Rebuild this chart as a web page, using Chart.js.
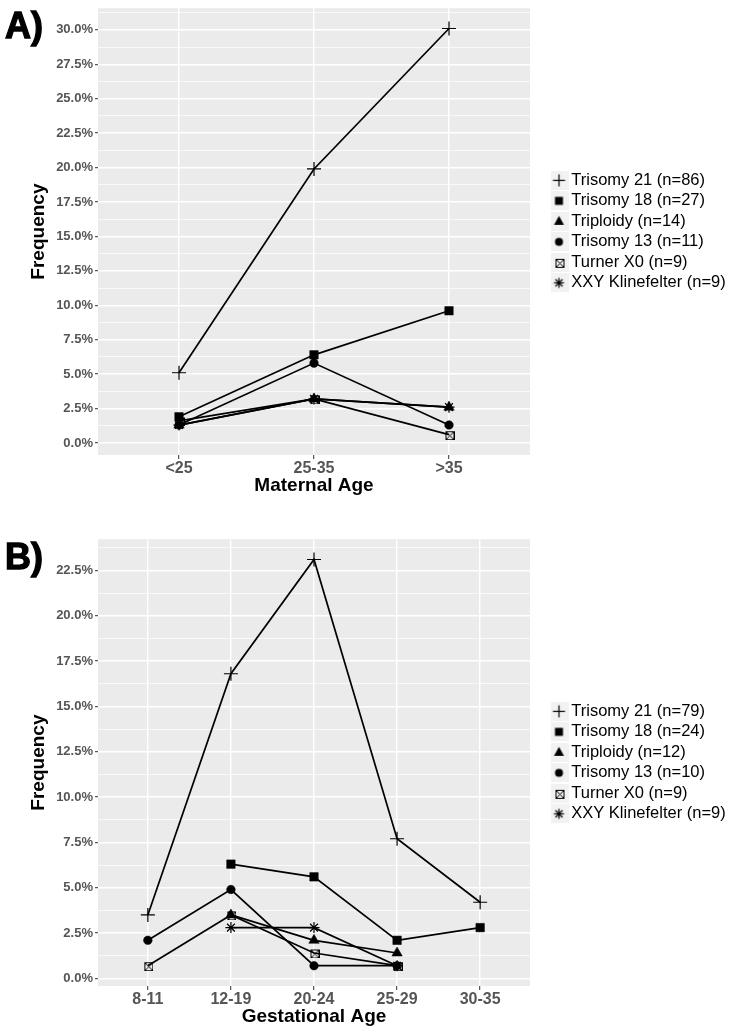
<!DOCTYPE html>
<html><head><meta charset="utf-8">
<script src="https://cdn.jsdelivr.net/npm/chart.js@4.4.0/dist/chart.umd.min.js"></script>
<style>
html,body{margin:0;padding:0;background:#fff;}
#wrap{position:relative;width:733px;height:1034px;overflow:hidden;background:#fff;}
.panel{position:absolute;left:0;width:733px;height:500px;}
.tag{position:absolute;left:5px;font:bold 36px 'Liberation Sans',Arial,sans-serif;line-height:36px;color:#000;-webkit-text-stroke:1.3px #000;}
</style></head><body>
<div id="wrap">
<div class="panel" style="top:0px"><canvas id="cA" width="733" height="500"></canvas></div>
<div class="panel" style="top:531px"><canvas id="cB" width="733" height="500"></canvas></div>
<div class="tag" style="top:8px">A)</div>
<div class="tag" style="top:539px">B)</div>
</div>
<script>
// ---------- data ----------
const seriesNames = ['Trisomy 21', 'Trisomy 18', 'Triploidy', 'Trisomy 13', 'Turner X0', 'XXY Klinefelter'];
const markerKinds = ['cross', 'square', 'triangle', 'circle', 'boxx', 'star'];

const maternalCategories = ['<25', '25-35', '>35'];
const maternalCounts = [86, 27, 14, 11, 9, 9];
const maternalT21 = [5.1, 19.9, 30.1];
const maternalT18 = [1.9, 6.4, 9.6];
const maternalTriploidy = [1.3, 3.2, 2.6];
const maternalT13 = [1.3, 5.8, 1.3];
const maternalTurner = [1.6, 3.2, 0.6];
const maternalXXY = [1.3, 3.2, 2.6];
const maternalYTicks = [0, 2.5, 5, 7.5, 10, 12.5, 15, 17.5, 20, 22.5, 25, 27.5, 30];

const gestCategories = ['8-11', '12-19', '20-24', '25-29', '30-35'];
const gestCounts = [79, 24, 12, 10, 9, 9];
const gestT21 = [3.5, 16.8, 23.1, 7.7, 4.2];
const gestT18 = [null, 6.3, 5.6, 2.1, 2.8];
const gestTriploidy = [null, 3.5, 2.1, 1.4, null];
const gestT13 = [2.1, 4.9, 0.7, 0.7, null];
const gestTurner = [0.7, 3.5, 1.4, 0.7, null];
const gestXXY = [null, 2.8, 2.8, 0.7, null];
const gestYTicks = [0, 2.5, 5, 7.5, 10, 12.5, 15, 17.5, 20, 22.5];

// ---------- styling ----------
const FONT = "'Liberation Sans', Arial, sans-serif";
Chart.defaults.font.family = FONT;
const LEG_W = 182, SPACER_W = 21, YAXIS_W = 98, XAXIS_H = 45;

function makeIcon(kind, size, bg) {
  const c = document.createElement('canvas');
  c.width = size; c.height = size;
  const g = c.getContext('2d');
  if (bg) { g.fillStyle = bg; g.fillRect(0, 0, size, size); }
  const m = size / 2;
  g.strokeStyle = '#000'; g.fillStyle = '#000'; g.lineWidth = 1.2;
  const ln = (a, b, c2, d) => { g.beginPath(); g.moveTo(a, b); g.lineTo(c2, d); g.stroke(); };
  switch (kind) {
    case 'cross': ln(m - 6, m, m + 6, m); ln(m, m - 6, m, m + 6); break;
    case 'square': g.fillRect(m - 4, m - 4, 8, 8); break;
    case 'triangle': g.beginPath(); g.moveTo(m, m - 5.5); g.lineTo(m + 5, m + 3.5); g.lineTo(m - 5, m + 3.5); g.closePath(); g.fill(); break;
    case 'circle': g.beginPath(); g.arc(m, m, 4, 0, Math.PI * 2); g.fill(); break;
    case 'boxx': {
      g.lineWidth = 1;
      const a = Math.round(m - 4) + 0.5, b = a + 8;
      g.strokeRect(a, a, 8, 8); ln(a, a, b, b); ln(b, a, a, b); break;
    }
    case 'star': {
      const r = 5;
      ln(m - r, m, m + r, m); ln(m, m - r, m, m + r);
      const d = r * Math.SQRT1_2; ln(m - d, m - d, m + d, m + d); ln(m + d, m - d, m - d, m + d); break;
    }
  }
  return c;
}
const turnerPoint = makeIcon('boxx', 11, null);
const legendIcons = markerKinds.map(k => makeIcon(k, 19, '#F2F2F2'));

const pointCfg = {
  cross: { pointStyle: 'cross', pointRadius: 7, pointBorderWidth: 1.2 },
  square: { pointStyle: 'rect', pointRadius: 6, pointBorderWidth: 0.5 },
  triangle: { pointStyle: 'triangle', pointRadius: 6, pointBorderWidth: 0.5 },
  circle: { pointStyle: 'circle', pointRadius: 4.3, pointBorderWidth: 0.5 },
  boxx: { pointStyle: turnerPoint, pointRadius: 5, pointBorderWidth: 1 },
  star: { pointStyle: 'star', pointRadius: 5.5, pointBorderWidth: 1.2 }
};

const panelBg = {
  id: 'panelBg',
  beforeDraw(chart) {
    const { ctx, chartArea: a } = chart;
    ctx.save(); ctx.fillStyle = '#EBEBEB';
    ctx.fillRect(a.left, a.top, a.right - a.left, a.bottom - a.top);
    ctx.restore();
  }
};
const fixLegend = {
  id: 'fixLegend',
  beforeLayout(chart) {
    const lg = chart.legend;
    if (lg && !lg._fixed) {
      const f = lg.fit;
      lg.fit = function () { f.call(this); this.width = LEG_W; };
      lg._fixed = true;
    }
  }
};

const isMajor = v => Math.abs(v / 2.5 - Math.round(v / 2.5)) < 1e-9;

function makeChart(id, cats, series, counts, majors, xTitle) {
  const all = series.flat().filter(v => v !== null);
  const lo = Math.min(...all), hi = Math.max(...all), ex = (hi - lo) * 0.05;
  const yMin = lo - ex, yMax = hi + ex;
  const step = majors[1] - majors[0];
  const tickVals = [];
  majors.forEach(v => { tickVals.push(v); tickVals.push(v + step / 2); });
  const yTicks = tickVals.filter(v => v >= yMin && v <= yMax);

  const datasets = series.map((vals, i) => Object.assign({
    label: seriesNames[i] + ' (n=' + counts[i] + ')',
    data: vals.map((v, j) => v === null ? null : { x: j, y: v }).filter(p => p !== null),
    showLine: true,
    borderColor: '#000', borderWidth: 1.7, backgroundColor: '#000',
    pointBackgroundColor: '#000', pointBorderColor: '#000',
    xAxisID: 'x', yAxisID: 'y', clip: false
  }, pointCfg[markerKinds[i]]));

  return new Chart(document.getElementById(id), {
    type: 'scatter',
    data: { datasets },
    plugins: [panelBg, fixLegend],
    options: {
      responsive: false, animation: false, devicePixelRatio: 1, events: [],
      layout: { padding: { top: 5, left: 0, right: 0, bottom: 0 } },
      plugins: {
        tooltip: { enabled: false },
        legend: {
          position: 'right', fullSize: false, align: 'center',
          labels: {
            usePointStyle: true, boxWidth: 8, padding: 4, color: '#000',
            font: { size: 16.5, family: FONT },
            generateLabels: (chart) => chart.data.datasets.map((ds, i) => ({
              text: ds.label, pointStyle: legendIcons[i], fillStyle: 'rgba(0,0,0,0)',
              strokeStyle: 'rgba(0,0,0,0)', lineWidth: 0, hidden: false, datasetIndex: i, fontColor: '#000'
            }))
          }
        }
      },
      scales: {
        x: {
          type: 'linear', position: 'bottom', min: -0.6, max: cats.length - 1 + 0.6,
          afterBuildTicks: s => { s.ticks = cats.map((c, i) => ({ value: i })); },
          afterFit: s => { s.height = XAXIS_H; s.paddingLeft = 0; s.paddingRight = 0; },
          ticks: {
            callback: v => cats[v] !== undefined ? cats[v] : '',
            autoSkip: false, maxRotation: 0, padding: 0, color: '#555',
            font: { size: 16, weight: 'bold', family: FONT }
          },
          grid: { color: '#FFFFFF', lineWidth: 1.4, tickLength: 4, tickColor: '#333', tickWidth: 1 },
          border: { display: false },
          title: { display: true, text: xTitle, color: '#000', font: { size: 19, weight: 'bold', family: FONT }, padding: { top: 0, bottom: 3 } }
        },
        y: {
          type: 'linear', position: 'left', min: yMin, max: yMax,
          afterBuildTicks: s => { s.ticks = yTicks.map(v => ({ value: v })); },
          afterFit: s => { s.width = YAXIS_W; s.paddingTop = 0; s.paddingBottom = 0; },
          ticks: {
            callback: v => isMajor(v) ? v.toFixed(1) + '%' : '',
            autoSkip: false, padding: 2, color: '#555',
            font: { size: 13, weight: 'bold', family: FONT }
          },
          grid: {
            color: '#FFFFFF',
            lineWidth: c => (c.tick && !isMajor(c.tick.value)) ? 0.7 : 1.4,
            tickLength: 3, tickWidth: 1,
            tickColor: c => (c.tick && !isMajor(c.tick.value)) ? 'rgba(0,0,0,0)' : '#333'
          },
          border: { display: false },
          title: { display: true, text: 'Frequency', color: '#000', font: { size: 19, weight: 'bold', family: FONT }, padding: { top: 27, bottom: 0 } }
        },
        pad: {
          type: 'linear', position: 'right', display: true,
          grid: { display: false, drawTicks: false }, ticks: { display: false }, border: { display: false },
          afterFit: s => { s.width = SPACER_W; s.paddingTop = 0; s.paddingBottom = 0; }
        }
      }
    }
  });
}

makeChart('cA', maternalCategories,
  [maternalT21, maternalT18, maternalTriploidy, maternalT13, maternalTurner, maternalXXY],
  maternalCounts, maternalYTicks, 'Maternal Age');
makeChart('cB', gestCategories,
  [gestT21, gestT18, gestTriploidy, gestT13, gestTurner, gestXXY],
  gestCounts, gestYTicks, 'Gestational Age');
</script>
</body></html>
